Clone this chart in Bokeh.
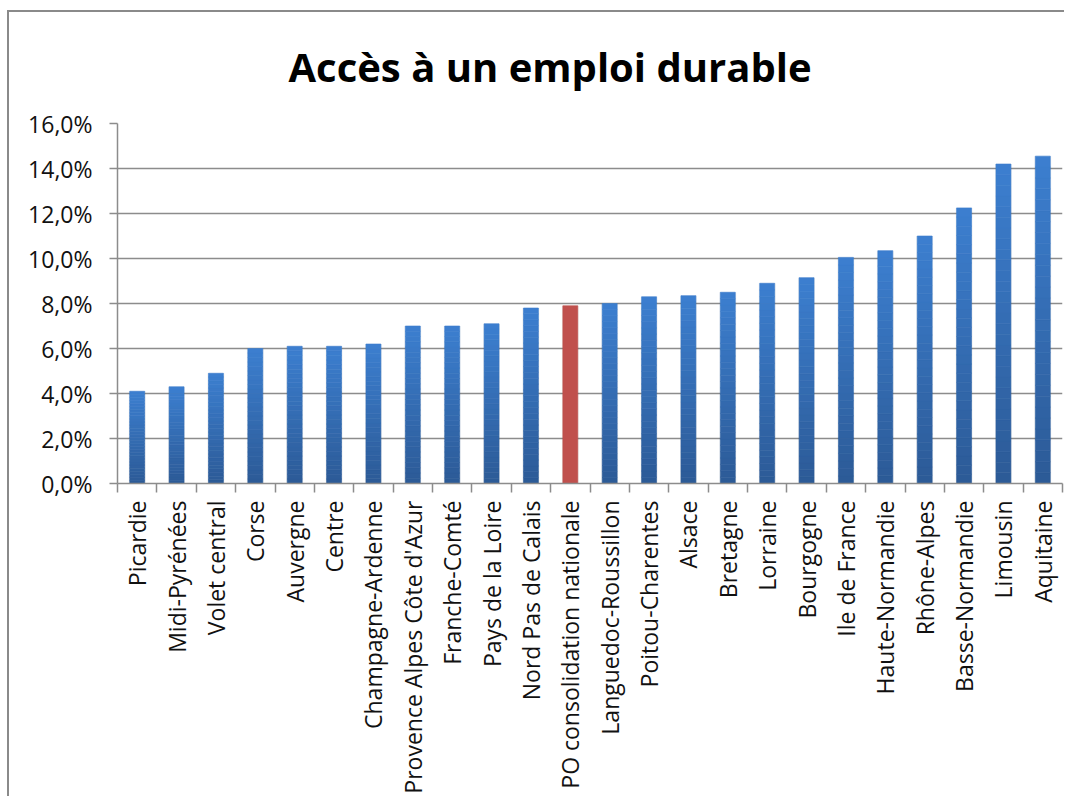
from math import pi
from bokeh.plotting import figure
from bokeh.models import Range1d, FixedTicker, ColumnDataSource
from bokeh.embed import file_html
from bokeh.resources import INLINE

# ---- data ----
regions = [
    "Picardie", "Midi-Pyrénées", "Volet central", "Corse", "Auvergne", "Centre",
    "Champagne-Ardenne", "Provence Alpes Côte d'Azur", "Franche-Comté",
    "Pays de la Loire", "Nord Pas de Calais", "PO consolidation nationale",
    "Languedoc-Roussillon", "Poitou-Charentes", "Alsace", "Bretagne", "Lorraine",
    "Bourgogne", "Ile de France", "Haute-Normandie", "Rhône-Alpes",
    "Basse-Normandie", "Limousin", "Aquitaine",
]
values = [4.1, 4.3, 4.9, 6.0, 6.1, 6.1, 6.2, 7.0, 7.0, 7.1, 7.8, 7.9,
          8.0, 8.3, 8.35, 8.5, 8.9, 9.15, 10.05, 10.35, 11.0, 12.25, 14.2, 14.55]
highlight = "PO consolidation nationale"
y_ticks = [0, 2, 4, 6, 8, 10, 12, 14, 16]
y_tick_labels = ["0,0%", "2,0%", "4,0%", "6,0%", "8,0%", "10,0%", "12,0%", "14,0%", "16,0%"]
title_text = "Accès à un emploi durable"

# ---- styles ----
FONT = "Open Sans"
GRID = "#8c8c8c"
FRAME = "#8a8a8a"
BLUE_BOTTOM = (0x2C, 0x5A, 0x96)
BLUE_TOP = (0x3C, 0x7F, 0xD0)
RED = "#C0504D"
BAR_W = 0.38
N_SLICES = 30


def mix(c0, c1, t):
    return "#%02x%02x%02x" % tuple(int(round(a + (b - a) * t)) for a, b in zip(c0, c1))


xs = [i + 0.5 for i in range(len(regions))]

# gradient slices built from each bar's value
sx, sb, st, sc = [], [], [], []
rx, rt = [], []
for x, v, name in zip(xs, values, regions):
    if name == highlight:
        rx.append(x)
        rt.append(v)
        continue
    for k in range(N_SLICES):
        sx.append(x)
        sb.append(v * k / N_SLICES)
        st.append(v * (k + 1) / N_SLICES)
        sc.append(mix(BLUE_BOTTOM, BLUE_TOP, (k + 0.5) / N_SLICES))

slices = ColumnDataSource(dict(x=sx, bottom=sb, top=st, color=sc))
red_src = ColumnDataSource(dict(x=rx, top=rt))
shadow_src = ColumnDataSource(dict(x=xs, top=values))

p = figure(
    width=1064, height=796,
    x_range=Range1d(0, len(regions)), y_range=Range1d(0, 16),
    output_backend="svg", toolbar_location=None,
    min_border_left=117, min_border_right=2,
    min_border_top=123, min_border_bottom=313,
    background_fill_color="white", border_fill_color=None,
)
p.outline_line_color = None
# chart-area frame: grey bands along the top and left edges (page background)
p.styles = {
    "background": (
        f"linear-gradient({FRAME}, {FRAME}) 7px 10px / 2px 100% no-repeat, "
        f"linear-gradient({FRAME}, {FRAME}) 7px 10px / 100% 2px no-repeat, white"
    ),
}

# title
p.title.text = title_text
p.title.text_font = FONT
p.title.text_font_style = "bold"
p.title.text_font_size = "40px"
p.title.text_color = "#000000"
p.title.align = "left"
p.title.offset = 171
p.title.standoff = 60

# grid
p.xgrid.grid_line_color = None
p.ygrid.ticker = FixedTicker(ticks=y_ticks)
p.ygrid.grid_line_color = GRID
p.ygrid.grid_line_width = 1.5

# bars
p.vbar(x="x", top="top", bottom=0, width=BAR_W + 0.05, source=shadow_src,
       fill_color="#000000", fill_alpha=0.06, line_color=None)
p.vbar(x="x", bottom="bottom", top="top", width=BAR_W, source=slices,
       fill_color="color", line_color="color", line_width=0.6)
p.vbar(x="x", top="top", bottom=0, width=BAR_W, source=red_src,
       fill_color=RED, line_color=RED, line_width=0.6)

# y axis
ya = p.yaxis[0]
ya.ticker = FixedTicker(ticks=y_ticks)
ya.major_label_overrides = {t: lab for t, lab in zip(y_ticks, y_tick_labels)}
ya.axis_line_color = GRID
ya.axis_line_width = 1.5
ya.major_tick_line_color = GRID
ya.major_tick_line_width = 1.5
ya.major_tick_out = 8
ya.major_tick_in = 0
ya.minor_tick_line_color = None
ya.major_label_standoff = 17
ya.major_label_text_font = FONT
ya.major_label_text_font_size = "23px"
ya.major_label_text_color = "#111111"

# x axis: labels at centres, ticks at boundaries
xa = p.xaxis[0]
xa.ticker = FixedTicker(ticks=xs, minor_ticks=list(range(len(regions) + 1)))
xa.major_label_overrides = {x: name for x, name in zip(xs, regions)}
xa.major_label_orientation = pi / 2
xa.axis_line_color = GRID
xa.axis_line_width = 1.5
xa.major_tick_line_color = None
xa.major_tick_out = 0
xa.major_tick_in = 0
xa.minor_tick_line_color = GRID
xa.minor_tick_line_width = 1.5
xa.minor_tick_out = 9
xa.minor_tick_in = 0
xa.major_label_standoff = 8
xa.major_label_text_font = FONT
xa.major_label_text_font_size = "23px"
xa.major_label_text_color = "#111111"

open("out.html", "w").write(file_html(p, INLINE))
